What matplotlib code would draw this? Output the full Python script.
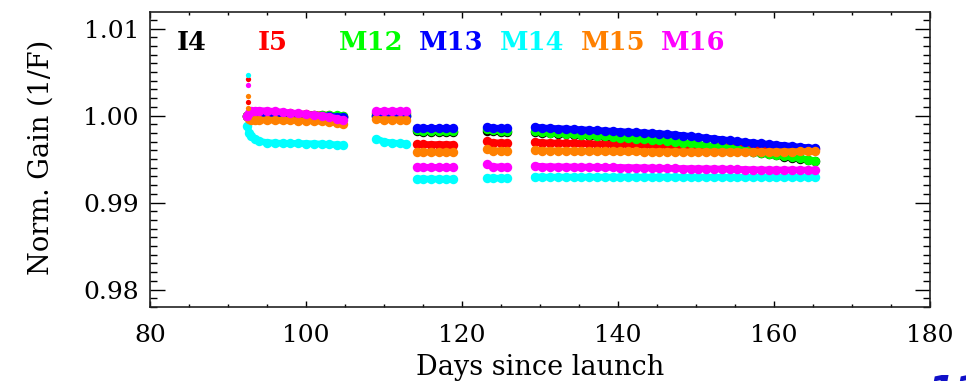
import matplotlib
matplotlib.use("Agg")
import matplotlib.pyplot as plt
from matplotlib.ticker import MultipleLocator

# ---- observation days for the five data segments ----
days_seg1 = [92.5, 92.7, 93.0, 93.5, 94, 95, 96, 97, 98, 99, 100, 101, 102, 103, 104, 104.8]
days_seg2 = [109, 110, 111, 112, 112.8]
days_seg3 = [114.2, 115, 116, 117, 118, 118.8]
days_seg4 = [123.2, 124, 125, 125.8]
days_seg5 = [129.3, 130.3, 131.3, 132.3, 133.3, 134.3, 135.3, 136.3, 137.3, 138.3,
             139.3, 140.3, 141.3, 142.3, 143.3, 144.3, 145.3, 146.3, 147.3, 148.3,
             149.3, 150.3, 151.3, 152.3, 153.3, 154.3, 155.3, 156.3, 157.3, 158.3,
             159.3, 160.3, 161.3, 162.3, 163.3, 164.3, 165.3]
segment_days = [days_seg1, days_seg2, days_seg3, days_seg4, days_seg5]

bands = ["I4", "I5", "M12", "M13", "M14", "M15", "M16"]
band_colors = ["#000000", "#ff0000", "#00ff00", "#0000ff", "#00ffff", "#ff8000", "#ff00ff"]

# ---- normalized gain (1/F) per band, one list per segment ----
gain_i4 = [
    [1.00000, 0.99995, 0.99997, 0.99998, 0.99998, 0.99997, 0.99996, 0.99996, 0.99995, 0.99994,
     0.99993, 0.99992, 0.99990, 0.99988, 0.99986, 0.99984],
    [1.00000, 1.00002, 1.00002, 1.00001, 1.00000],
    [0.99818, 0.99816, 0.99815, 0.99815, 0.99814, 0.99814],
    [0.99828, 0.99818, 0.99816, 0.99815],
    [0.99812, 0.99803, 0.99797, 0.99791, 0.99785, 0.99779, 0.99772, 0.99766, 0.99760, 0.99754,
     0.99747, 0.99741, 0.99735, 0.99729, 0.99722, 0.99716, 0.99710, 0.99703, 0.99694, 0.99684,
     0.99673, 0.99662, 0.99651, 0.99640, 0.99629, 0.99618, 0.99606, 0.99593, 0.99580, 0.99567,
     0.99554, 0.99541, 0.99528, 0.99515, 0.99502, 0.99489, 0.99475],
]
gain_i5 = [
    [1.00000, 1.00015, 1.00025, 1.00030, 1.00030, 1.00030, 1.00028, 1.00026, 1.00024, 1.00020,
     1.00016, 1.00012, 1.00008, 1.00003, 0.99997, 0.99990],
    [1.00025, 1.00030, 1.00030, 1.00028, 1.00027],
    [0.99670, 0.99668, 0.99667, 0.99667, 0.99666, 0.99666],
    [0.99705, 0.99688, 0.99686, 0.99685],
    [0.99698, 0.99688, 0.99686, 0.99684, 0.99682, 0.99681, 0.99679, 0.99677, 0.99675, 0.99674,
     0.99672, 0.99670, 0.99668, 0.99666, 0.99664, 0.99662, 0.99660, 0.99657, 0.99654, 0.99652,
     0.99650, 0.99648, 0.99646, 0.99645, 0.99644, 0.99643, 0.99642, 0.99640, 0.99638, 0.99636,
     0.99633, 0.99630, 0.99627, 0.99624, 0.99621, 0.99618, 0.99615],
]
gain_m12 = [
    [1.00000, 1.00005, 1.00008, 1.00010, 1.00010, 1.00010, 1.00009, 1.00008, 1.00008, 1.00007,
     1.00006, 1.00005, 1.00004, 1.00003, 1.00001, 0.99999],
    [1.00008, 1.00010, 1.00010, 1.00010, 1.00009],
    [0.99830, 0.99828, 0.99827, 0.99827, 0.99826, 0.99826],
    [0.99840, 0.99830, 0.99828, 0.99827],
    [0.99818, 0.99809, 0.99803, 0.99797, 0.99791, 0.99785, 0.99778, 0.99772, 0.99766, 0.99760,
     0.99753, 0.99747, 0.99741, 0.99735, 0.99728, 0.99722, 0.99716, 0.99709, 0.99700, 0.99690,
     0.99679, 0.99668, 0.99657, 0.99646, 0.99635, 0.99624, 0.99612, 0.99599, 0.99586, 0.99573,
     0.99560, 0.99547, 0.99534, 0.99521, 0.99508, 0.99495, 0.99481],
]
gain_m13 = [
    [1.00000, 1.00002, 1.00004, 1.00005, 1.00005, 1.00004, 1.00003, 1.00002, 1.00001, 1.00000,
     0.99998, 0.99996, 0.99993, 0.99990, 0.99986, 0.99982],
    [0.99998, 1.00000, 1.00000, 0.99999, 0.99998],
    [0.99856, 0.99854, 0.99853, 0.99853, 0.99852, 0.99852],
    [0.99870, 0.99856, 0.99854, 0.99853],
    [0.99870, 0.99858, 0.99854, 0.99850, 0.99846, 0.99842, 0.99838, 0.99833, 0.99829, 0.99825,
     0.99820, 0.99816, 0.99811, 0.99807, 0.99802, 0.99797, 0.99792, 0.99786, 0.99779, 0.99770,
     0.99761, 0.99752, 0.99743, 0.99733, 0.99724, 0.99714, 0.99704, 0.99695, 0.99687, 0.99679,
     0.99671, 0.99663, 0.99655, 0.99647, 0.99639, 0.99631, 0.99623],
]
gain_m14 = [
    [0.99885, 0.99800, 0.99760, 0.99725, 0.99705, 0.99690, 0.99684, 0.99682, 0.99681, 0.99680,
     0.99678, 0.99676, 0.99673, 0.99669, 0.99664, 0.99660],
    [0.99735, 0.99700, 0.99686, 0.99680, 0.99678],
    [0.99272, 0.99271, 0.99270, 0.99270, 0.99270, 0.99269],
    [0.99284, 0.99281, 0.99280, 0.99280],
    [0.99296, 0.99293, 0.99293, 0.99293, 0.99293, 0.99293, 0.99292, 0.99293, 0.99293, 0.99292,
     0.99293, 0.99293, 0.99292, 0.99292, 0.99293, 0.99292, 0.99292, 0.99293, 0.99292, 0.99292,
     0.99292, 0.99293, 0.99292, 0.99292, 0.99292, 0.99292, 0.99292, 0.99291, 0.99292, 0.99292,
     0.99292, 0.99291, 0.99292, 0.99292, 0.99291, 0.99292, 0.99292],
]
gain_m15 = [
    [0.99990, 0.99960, 0.99950, 0.99948, 0.99948, 0.99948, 0.99947, 0.99945, 0.99944, 0.99942,
     0.99940, 0.99937, 0.99933, 0.99926, 0.99915, 0.99900],
    [0.99955, 0.99953, 0.99952, 0.99952, 0.99950],
    [0.99582, 0.99580, 0.99580, 0.99579, 0.99579, 0.99578],
    [0.99612, 0.99597, 0.99595, 0.99594],
    [0.99606, 0.99597, 0.99596, 0.99595, 0.99594, 0.99593, 0.99592, 0.99591, 0.99590, 0.99590,
     0.99589, 0.99588, 0.99587, 0.99587, 0.99586, 0.99585, 0.99585, 0.99584, 0.99584, 0.99583,
     0.99583, 0.99582, 0.99582, 0.99582, 0.99581, 0.99581, 0.99581, 0.99581, 0.99582, 0.99582,
     0.99583, 0.99584, 0.99585, 0.99586, 0.99587, 0.99588, 0.99589],
]
gain_m16 = [
    [1.00000, 1.00030, 1.00050, 1.00056, 1.00057, 1.00054, 1.00048, 1.00040, 1.00032, 1.00024,
     1.00015, 1.00006, 0.99997, 0.99984, 0.99966, 0.99945],
    [1.00048, 1.00050, 1.00050, 1.00050, 1.00048],
    [0.99408, 0.99406, 0.99405, 0.99405, 0.99404, 0.99404],
    [0.99440, 0.99412, 0.99410, 0.99409],
    [0.99422, 0.99413, 0.99412, 0.99411, 0.99410, 0.99409, 0.99408, 0.99407, 0.99406, 0.99405,
     0.99404, 0.99403, 0.99402, 0.99401, 0.99400, 0.99398, 0.99396, 0.99394, 0.99392, 0.99391,
     0.99390, 0.99389, 0.99388, 0.99387, 0.99386, 0.99384, 0.99382, 0.99380, 0.99378, 0.99376,
     0.99376, 0.99375, 0.99375, 0.99375, 0.99374, 0.99374, 0.99374],
]
band_gains = [gain_i4, gain_i5, gain_m12, gain_m13, gain_m14, gain_m15, gain_m16]

# transient readings right after the first calibration (same day)
spike_day = 92.6
spike_values = {
    "I5": [1.00420, 1.00155],
    "M14": [1.00465],
    "M15": [1.00220, 1.00085],
    "M16": [1.00350],
}

x_ticks = [80, 100, 120, 140, 160, 180]
y_ticks = [0.98, 0.99, 1.00, 1.01]

FONT = ["DejaVu Serif"]

fig = plt.figure(figsize=(9.66, 3.81), dpi=100)
ax = fig.add_axes([150 / 966, 74 / 381, 780 / 966, 295 / 381])

for name, color, gains in zip(bands, band_colors, band_gains):
    for days, vals in zip(segment_days, gains):
        ax.plot(days, vals, "-", color=color, lw=4.8, solid_capstyle="round", zorder=2)
        ax.plot(days, vals, "o", color=color, ms=6.8, mew=0, zorder=2)
    if name in spike_values:
        sv = spike_values[name]
        ax.plot([spike_day] * len(sv), sv, "o", color=color, ms=3.8, mew=0, zorder=3)

ax.set_xlim(80, 180)
ax.set_ylim(0.978, 1.0119)
ax.set_xticks(x_ticks)
ax.set_xticklabels([str(v) for v in x_ticks])
ax.set_yticks(y_ticks)
ax.set_yticklabels([f"{v:.2f}" for v in y_ticks])
ax.xaxis.set_minor_locator(MultipleLocator(5))
ax.yaxis.set_minor_locator(MultipleLocator(0.001))

ax.tick_params(axis="x", which="major", direction="in", length=4.5, width=1.0,
               top=True, bottom=True, pad=12.5)
ax.tick_params(axis="x", which="minor", direction="in", length=2.2, width=1.0,
               top=True, bottom=True)
ax.tick_params(axis="y", which="major", direction="in", length=11, width=1.0,
               left=True, right=True, pad=8)
ax.tick_params(axis="y", which="minor", direction="in", length=5, width=1.0,
               left=True, right=True)

for lab in ax.get_xticklabels() + ax.get_yticklabels():
    lab.set_family(FONT)
    lab.set_fontsize(18)

for sp in ax.spines.values():
    sp.set_linewidth(1.2)
    sp.set_color("#222222")

ax.set_xlabel("Days since launch", family=FONT, fontsize=19.5)
ax.xaxis.set_label_coords(0.5, -0.205)
ax.xaxis.label.set_va("center")
ax.set_ylabel("Norm. Gain (1/F)", family=FONT, fontsize=19.5)
ax.yaxis.set_label_coords(-0.1397, 0.508)
ax.yaxis.label.set_va("center")

# band names across the top of the panel
for i, (name, color) in enumerate(zip(bands, band_colors)):
    ax.text(0.0346 + i * 0.1035, 0.898, name, transform=ax.transAxes, color=color,
            family=FONT, fontsize=18.5, fontweight="bold", ha="left", va="center")

# page number at the lower right corner
fig.text(927 / 966, -0.06, "11", color="#1010c8", fontsize=28, fontweight="bold",
         style="italic", ha="left", va="baseline")

fig.savefig("out.png", dpi=100)
